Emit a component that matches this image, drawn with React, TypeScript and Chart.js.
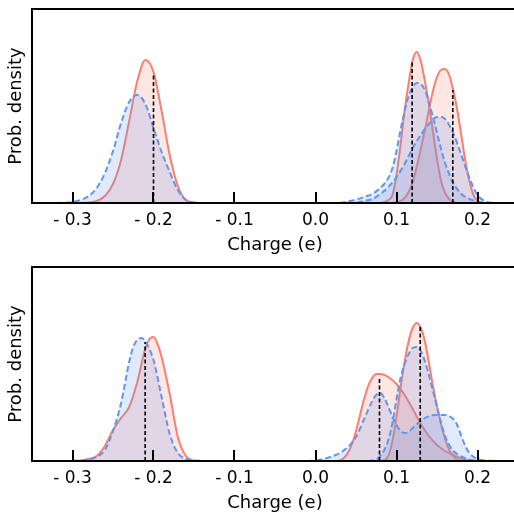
import React, { useEffect, useRef } from "react";
import { Chart, registerables } from "chart.js";

Chart.register(...registerables);

// ---------- axis ----------
const X_TICKS = [-0.3, -0.2, -0.1, 0.0, 0.1, 0.2];
const X_MIN = -0.35;
const X_MAX = 0.25;
const Y_MAX = 38.8;
const X_TITLE = "Charge (e)";
const Y_TITLE = "Prob. density";

// ---------- top panel ----------
const TOP_RED_A_X = [-0.29, -0.28, -0.27, -0.26, -0.25, -0.24, -0.23, -0.22, -0.21, -0.2, -0.19, -0.18, -0.17, -0.16, -0.15, -0.14];
const TOP_RED_A_Y = [0, 0.1, 0.4, 1.4, 3.8, 8.6, 16.4, 24.4, 28.6, 26.2, 18.4, 9.6, 3.4, 0.6, 0.1, 0];

const TOP_BLUE_A_X = [-0.32, -0.3, -0.29, -0.28, -0.27, -0.26, -0.25, -0.24, -0.23, -0.22, -0.21, -0.2, -0.19, -0.18, -0.17, -0.16, -0.15, -0.14];
const TOP_BLUE_A_Y = [0, 0.2, 0.6, 1.4, 3, 6, 10.4, 16, 20.2, 21.6, 19.8, 15, 10.2, 6.2, 2.6, 0.6, 0.1, 0];

const TOP_RED_B_X = [0.08, 0.085, 0.09, 0.095, 0.1, 0.105, 0.11, 0.115, 0.12, 0.125, 0.13, 0.135, 0.14, 0.145, 0.15, 0.155, 0.16, 0.165, 0.17, 0.175];
const TOP_RED_B_Y = [0, 0.2, 0.6, 1.6, 5.6, 11.6, 18.4, 24, 28.6, 30.2, 28.4, 24.4, 19.8, 14.2, 8.8, 4.4, 2, 0.8, 0.2, 0];

const TOP_RED_C_X = [0.095, 0.1, 0.105, 0.11, 0.115, 0.12, 0.125, 0.13, 0.135, 0.14, 0.145, 0.15, 0.155, 0.16, 0.165, 0.17, 0.175, 0.18, 0.185, 0.19, 0.195, 0.2, 0.205];
const TOP_RED_C_Y = [0, 0.1, 0.4, 1, 2.2, 4.2, 7.2, 10.8, 14.6, 18.6, 22.4, 25.2, 26.6, 26.8, 25.6, 22.6, 18.6, 13.6, 8.4, 4.4, 1.6, 0.4, 0];

const TOP_BLUE_B_X = [0.03, 0.04, 0.05, 0.06, 0.07, 0.08, 0.09, 0.095, 0.1, 0.105, 0.11, 0.115, 0.12, 0.125, 0.13, 0.135, 0.14, 0.145, 0.15, 0.155, 0.16, 0.165, 0.17, 0.18, 0.19, 0.2, 0.21];
const TOP_BLUE_B_Y = [0, 0.3, 0.7, 1.2, 1.8, 3, 5, 7, 10.4, 14.6, 18.4, 21.4, 23.2, 24, 23.8, 22.6, 20.2, 17.2, 14, 10.8, 8, 5.8, 4, 1.8, 0.8, 0.3, 0];

const TOP_BLUE_C_X = [0.04, 0.05, 0.06, 0.07, 0.08, 0.09, 0.1, 0.11, 0.12, 0.13, 0.14, 0.15, 0.155, 0.16, 0.17, 0.18, 0.19, 0.2, 0.21, 0.22];
const TOP_BLUE_C_Y = [0, 0.1, 0.4, 0.8, 1.8, 3.2, 5.2, 7.8, 11, 13.6, 15.8, 17.2, 17.2, 16.8, 14, 9.6, 5, 1.6, 0.3, 0];

const TOP_VLINE_X = [-0.2, 0.1193, 0.1695];
const TOP_VLINE_Y = [26, 28.6, 22.6];

// ---------- bottom panel ----------
const BOT_RED_A_X = [-0.3, -0.29, -0.28, -0.27, -0.26, -0.25, -0.24, -0.23, -0.22, -0.21, -0.205, -0.2, -0.195, -0.19, -0.18, -0.17, -0.16, -0.15, -0.14];
const BOT_RED_A_Y = [0, 0.1, 0.4, 1, 3, 6.2, 8.6, 10.8, 15.8, 22.6, 24.4, 24.8, 23.4, 20.8, 13.4, 4.8, 1, 0.1, 0];

const BOT_BLUE_A_X = [-0.3, -0.29, -0.28, -0.27, -0.26, -0.25, -0.24, -0.23, -0.225, -0.22, -0.215, -0.21, -0.205, -0.2, -0.19, -0.18, -0.17, -0.16, -0.15, -0.14];
const BOT_BLUE_A_Y = [0, 0.1, 0.3, 0.8, 2.2, 6, 11.6, 19.8, 22.8, 24.2, 24.6, 24, 22.4, 20.2, 12.8, 5.4, 1.6, 0.4, 0.1, 0];

const BOT_RED_B_X = [0.025, 0.03, 0.035, 0.04, 0.045, 0.05, 0.055, 0.06, 0.065, 0.07, 0.075, 0.08, 0.09, 0.1, 0.11, 0.12, 0.13, 0.14, 0.15, 0.16, 0.17, 0.18, 0.19, 0.2];
const BOT_RED_B_Y = [0, 0.1, 0.6, 1.6, 3.4, 6, 9.2, 12.4, 15, 16.6, 17.4, 17.4, 16.8, 15.4, 13.2, 10.4, 7.4, 5, 3.2, 2, 1.2, 0.5, 0.1, 0];

const BOT_RED_C_X = [0.08, 0.085, 0.09, 0.095, 0.1, 0.105, 0.11, 0.115, 0.12, 0.125, 0.13, 0.135, 0.14, 0.145, 0.15, 0.155, 0.16, 0.165, 0.17, 0.175, 0.18];
const BOT_RED_C_Y = [0, 0.2, 1, 4, 8.8, 14.6, 19.8, 24, 26.6, 27.6, 26.6, 24, 19.6, 15, 11, 7.4, 4.4, 2.2, 1, 0.3, 0];

const BOT_BLUE_B_X = [-0.01, 0, 0.01, 0.02, 0.03, 0.04, 0.05, 0.06, 0.07, 0.075, 0.08, 0.085, 0.09, 0.095, 0.1, 0.105, 0.11, 0.115, 0.12, 0.13, 0.14, 0.15, 0.16, 0.165, 0.17, 0.175, 0.18, 0.185, 0.19, 0.2, 0.21, 0.22];
const BOT_BLUE_B_Y = [0, 0.1, 0.4, 0.9, 1.6, 2.8, 4.8, 8.4, 12, 13.2, 13.6, 12.6, 10.8, 8.8, 7.2, 6, 5.6, 5.8, 6.6, 8, 9, 9.2, 9.2, 9, 8.4, 7.2, 5, 3, 1.6, 0.4, 0.1, 0];

const BOT_BLUE_C_X = [0.065, 0.07, 0.075, 0.08, 0.085, 0.09, 0.095, 0.1, 0.105, 0.11, 0.115, 0.12, 0.125, 0.13, 0.135, 0.14, 0.145, 0.15, 0.155, 0.16, 0.165, 0.17, 0.175, 0.18, 0.19, 0.2];
const BOT_BLUE_C_Y = [0, 0.1, 0.3, 1, 2.2, 4.2, 7.6, 12.4, 16.6, 19.4, 21.4, 22.6, 22.8, 22, 20, 17.2, 14, 10.8, 7.6, 5, 3.2, 2, 1.4, 0.9, 0.3, 0];

const BOT_VLINE_X = [-0.2103, 0.079, 0.1293];
const BOT_VLINE_Y = [23.8, 16.8, 26.8];

// ---------- styles ----------
const RED = "rgb(246,128,114)";
const RED_FILL = "rgba(250,128,114,0.2)";
const BLUE = "rgb(100,149,237)";
const BLUE_FILL = "rgba(100,149,237,0.2)";
const FONT = "'DejaVu Sans', sans-serif";

type Curve = { xs: number[]; ys: number[]; kind: "red" | "blue" };

const zip = (xs: number[], ys: number[]) => xs.map((x, i) => ({ x, y: ys[i] }));

const framePlugin = {
  id: "frame",
  afterDatasetsDraw(chart: any) {
    const { ctx, chartArea: a, scales } = chart;
    ctx.save();
    ctx.strokeStyle = "#000";
    ctx.lineWidth = 2;
    ctx.strokeRect(a.left, a.top, a.right - a.left, a.bottom - a.top);
    const xs = scales.x;
    ctx.beginPath();
    xs.ticks.forEach((t: any) => {
      const px = Math.round(xs.getPixelForValue(t.value));
      ctx.moveTo(px, a.bottom);
      ctx.lineTo(px, a.bottom - 11);
    });
    ctx.stroke();
    ctx.restore();
  },
};

function buildConfig(curves: Curve[], vx: number[], vy: number[]): any {
  const datasets: any[] = [];
  vx.forEach((x, i) => {
    datasets.push({
      data: [
        { x, y: 0 },
        { x, y: vy[i] },
      ],
      borderColor: "#000",
      borderWidth: 1.6,
      borderDash: [4, 2.5],
      pointRadius: 0,
      fill: false,
      order: 0,
    });
  });
  curves.forEach((c) => {
    const red = c.kind === "red";
    datasets.push({
      data: zip(c.xs, c.ys),
      borderColor: red ? RED : BLUE,
      backgroundColor: red ? RED_FILL : BLUE_FILL,
      borderWidth: 2,
      borderDash: red ? [] : [6, 3],
      pointRadius: 0,
      fill: "origin",
      cubicInterpolationMode: "monotone",
      order: red ? 2 : 1,
    });
  });
  return {
    type: "line",
    data: { datasets },
    plugins: [framePlugin],
    options: {
      animation: false,
      responsive: false,
      devicePixelRatio: 1,
      events: [],
      layout: { padding: { top: 9, left: 0, right: 0, bottom: 0 } },
      plugins: { legend: { display: false }, tooltip: { enabled: false } },
      scales: {
        x: {
          type: "linear",
          min: X_MIN,
          max: X_MAX,
          grid: { display: false, drawTicks: false },
          border: { display: false },
          afterBuildTicks: (s: any) => {
            s.ticks = X_TICKS.map((v) => ({ value: v }));
          },
          afterFit: (s: any) => {
            s.height = 53;
          },
          ticks: {
            autoSkip: false,
            maxRotation: 0,
            padding: 7,
            color: "#000",
            font: { family: FONT, size: 17 },
            callback: (v: number) => (v < -1e-9 ? "- " + Math.abs(v).toFixed(1) : Math.abs(v).toFixed(1)),
          },
          title: {
            display: true,
            text: X_TITLE,
            color: "#000",
            font: { family: FONT, size: 18, lineHeight: 1.2 },
            padding: { top: 0, bottom: 0 },
          },
        },
        y: {
          type: "linear",
          min: 0,
          max: Y_MAX,
          grid: { display: false, drawTicks: false },
          border: { display: false },
          ticks: { display: false },
          afterFit: (s: any) => {
            s.width = 32;
          },
          title: {
            display: true,
            text: Y_TITLE,
            color: "#000",
            font: { family: FONT, size: 18, lineHeight: 1.2 },
            padding: { top: 6, bottom: 0 },
          },
        },
      },
    },
  };
}

const TOP_CURVES: Curve[] = [
  { xs: TOP_RED_A_X, ys: TOP_RED_A_Y, kind: "red" },
  { xs: TOP_RED_B_X, ys: TOP_RED_B_Y, kind: "red" },
  { xs: TOP_RED_C_X, ys: TOP_RED_C_Y, kind: "red" },
  { xs: TOP_BLUE_A_X, ys: TOP_BLUE_A_Y, kind: "blue" },
  { xs: TOP_BLUE_B_X, ys: TOP_BLUE_B_Y, kind: "blue" },
  { xs: TOP_BLUE_C_X, ys: TOP_BLUE_C_Y, kind: "blue" },
];

const BOT_CURVES: Curve[] = [
  { xs: BOT_RED_A_X, ys: BOT_RED_A_Y, kind: "red" },
  { xs: BOT_RED_B_X, ys: BOT_RED_B_Y, kind: "red" },
  { xs: BOT_RED_C_X, ys: BOT_RED_C_Y, kind: "red" },
  { xs: BOT_BLUE_A_X, ys: BOT_BLUE_A_Y, kind: "blue" },
  { xs: BOT_BLUE_B_X, ys: BOT_BLUE_B_Y, kind: "blue" },
  { xs: BOT_BLUE_C_X, ys: BOT_BLUE_C_Y, kind: "blue" },
];

export default function App() {
  const topRef = useRef<HTMLCanvasElement>(null);
  const botRef = useRef<HTMLCanvasElement>(null);

  useEffect(() => {
    const c1 = new Chart(topRef.current as HTMLCanvasElement, buildConfig(TOP_CURVES, TOP_VLINE_X, TOP_VLINE_Y));
    const c2 = new Chart(botRef.current as HTMLCanvasElement, buildConfig(BOT_CURVES, BOT_VLINE_X, BOT_VLINE_Y));
    return () => {
      c1.destroy();
      c2.destroy();
    };
  }, []);

  return (
    <div
      style={{
        position: "absolute",
        left: 0,
        top: 0,
        width: 514,
        height: 514,
        overflow: "hidden",
        background: "#fff",
      }}
    >
      <canvas ref={topRef} width={518} height={256} style={{ position: "absolute", left: 0, top: 0 }} />
      <canvas ref={botRef} width={518} height={256} style={{ position: "absolute", left: 0, top: 258 }} />
    </div>
  );
}
